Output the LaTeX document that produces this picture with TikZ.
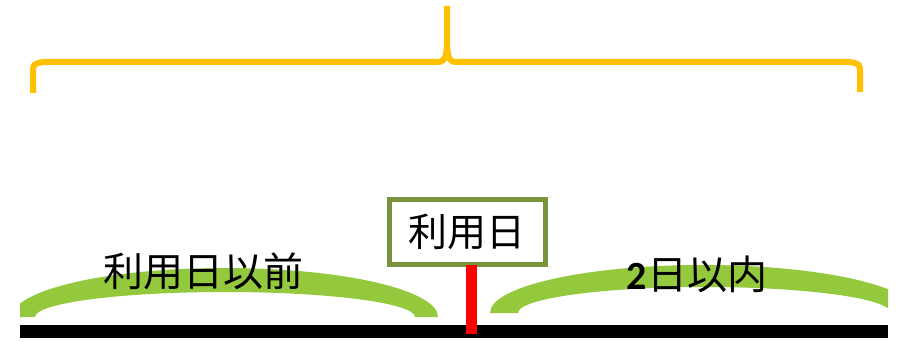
\documentclass[tikz,border=0pt]{standalone}
\usepackage{fontspec}
\setmainfont{Noto Sans CJK JP}
\newfontfamily\digitfont{Carlito}
\begin{document}
\begin{tikzpicture}[x=1pt,y=-1pt,
  bracestyle/.style={draw={rgb,255:red,255;green,192;blue,0},line width=6pt,line cap=butt},
  arcfill/.style={fill={rgb,255:red,149;green,201;blue,61}},
  baseline/.style={draw=black,line width=13pt},
  marker/.style={draw=red,line width=11pt},
  datebox/.style={draw={rgb,255:red,119;green,147;blue,60},line width=5pt,fill=white,
    minimum width=156pt,minimum height=65pt,inner sep=0pt,font=\fontsize{39}{44}\selectfont},
  lbl/.style={inner sep=0pt,font=\fontsize{40}{46}\selectfont}]
\useasboundingbox (0,0) rectangle (902,342);
% brace
\draw[bracestyle] (33,93) -- (33,74) .. controls (33,64) .. (43,62) -- (438,62)
  .. controls (445,62) and (447,56) .. (447,40) -- (447,6);
\draw[bracestyle] (860,92) -- (860,74) .. controls (860,64) .. (850,62) -- (456,62)
  .. controls (449,62) and (447,56) .. (447,40);
% green arcs
\begin{scope}
\clip (20,0) rectangle (888,342);
\fill[arcfill] (12,317) arc[start angle=180,end angle=360,x radius=213,y radius=49]
  -- (415,317) arc[start angle=0,end angle=-180,x radius=190,y radius=25] -- cycle;
\fill[arcfill] (490,313) arc[start angle=180,end angle=360,x radius=213,y radius=48]
  -- (891,313) arc[start angle=0,end angle=-180,x radius=186.5,y radius=26] -- cycle;
\end{scope}
% base line
\coordinate (bl) at (20,331.5);
\coordinate (br) at (888,331.5);
\draw[baseline] (bl) -- (br);
% date box and marker
\node[datebox] (box) at (467,232) {利用日};
\coordinate (r) at (471,334);
\draw[marker] ([yshift=2.5pt]box.south -| r) -- (r);
% labels
\node[lbl] (before) at (203,271) {利用日以前};
\node[lbl] (within) at (697,274) {{\digitfont\bfseries 2}日以内};
\end{tikzpicture}
\end{document}
